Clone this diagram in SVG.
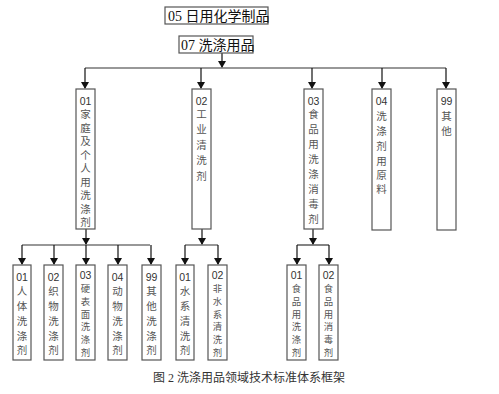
<svg xmlns="http://www.w3.org/2000/svg" width="499" height="394" viewBox="0 0 499 394">
<style>
.box{fill:#fff;stroke:#555;stroke-width:1.2}
.ln{fill:none;stroke:#333;stroke-width:1.2}
.ar{fill:none;stroke:#111;stroke-width:1.2;marker-end:url(#ah)}
.t1{font-family:"Liberation Serif","Noto Sans CJK SC",serif;font-size:14px;fill:#111}
.v{font-family:"Noto Sans CJK SC",sans-serif;font-size:10.5px;fill:#555;text-anchor:middle}
.s{font-size:9.4px}
.n{font-family:"Liberation Sans","Noto Sans CJK SC",sans-serif;font-size:10.5px;fill:#333;text-anchor:middle}
.cap{font-family:"Liberation Serif","Noto Sans CJK SC",serif;font-size:12px;fill:#333}
</style>
<defs>
<marker id="ah" markerWidth="7" markerHeight="8" refX="6" refY="4" orient="auto" markerUnits="userSpaceOnUse">
<path d="M0,0 L7,4 L0,8 z" fill="#111"/>
</marker>
</defs>
<rect width="499" height="394" fill="#fff"/>
<g id="connectors">
<line class="ar" x1="222" y1="53" x2="222" y2="67"/>
<line class="ln" x1="85" y1="68" x2="446" y2="68"/>
<line class="ar" x1="85" y1="68" x2="85" y2="88"/>
<line class="ar" x1="201" y1="68" x2="201" y2="88"/>
<line class="ar" x1="312" y1="68" x2="312" y2="88"/>
<line class="ar" x1="382" y1="68" x2="382" y2="88"/>
<line class="ar" x1="446" y1="68" x2="446" y2="88"/>
<line class="ar" x1="86" y1="229" x2="86" y2="244"/>
<line class="ln" x1="22" y1="245" x2="150" y2="245"/>
<line class="ar" x1="22" y1="245" x2="22" y2="264"/>
<line class="ar" x1="54" y1="245" x2="54" y2="264"/>
<line class="ar" x1="86" y1="245" x2="86" y2="264"/>
<line class="ar" x1="118" y1="245" x2="118" y2="264"/>
<line class="ar" x1="151" y1="245" x2="151" y2="264"/>
<line class="ar" x1="202" y1="229" x2="202" y2="244"/>
<line class="ln" x1="185" y1="245" x2="218" y2="245"/>
<line class="ar" x1="185" y1="245" x2="185" y2="264"/>
<line class="ar" x1="218" y1="245" x2="218" y2="264"/>
<line class="ar" x1="313" y1="229" x2="313" y2="244"/>
<line class="ln" x1="297" y1="245" x2="329" y2="245"/>
<line class="ar" x1="297" y1="245" x2="297" y2="264"/>
<line class="ar" x1="329" y1="245" x2="329" y2="264"/>
</g>
<g id="n05"><rect class="box" x="165" y="7" width="103" height="17"/><text class="t1" x="168" y="20.5">05 日用化学制品</text></g>
<g id="n07"><rect class="box" x="179" y="36" width="74" height="17"/><text class="t1" x="181" y="49.5">07 洗涤用品</text></g>

<g id="a01"><rect class="box" x="76" y="89" width="19" height="140"/>
<text class="n" x="85.5" y="105">01</text>
<text class="v"><tspan x="85.5" y="118">家</tspan><tspan x="85.5" y="131.5">庭</tspan><tspan x="85.5" y="145">及</tspan><tspan x="85.5" y="158.5">个</tspan><tspan x="85.5" y="172">人</tspan><tspan x="85.5" y="185.5">用</tspan><tspan x="85.5" y="199">洗</tspan><tspan x="85.5" y="212.5">涤</tspan><tspan x="85.5" y="226">剂</tspan></text></g>
<g id="a02"><rect class="box" x="192" y="89" width="19" height="140"/>
<text class="n" x="201.5" y="105">02</text>
<text class="v"><tspan x="201.5" y="117.5">工</tspan><tspan x="201.5" y="133">业</tspan><tspan x="201.5" y="148.5">清</tspan><tspan x="201.5" y="164">洗</tspan><tspan x="201.5" y="179.5">剂</tspan></text></g>
<g id="a03"><rect class="box" x="304" y="89" width="19" height="140"/>
<text class="n" x="313.5" y="105">03</text>
<text class="v"><tspan x="313.5" y="118">食</tspan><tspan x="313.5" y="133">品</tspan><tspan x="313.5" y="148">用</tspan><tspan x="313.5" y="163">洗</tspan><tspan x="313.5" y="178">涤</tspan><tspan x="313.5" y="192.5">消</tspan><tspan x="313.5" y="207.5">毒</tspan><tspan x="313.5" y="222.5">剂</tspan></text></g>
<g id="a04"><rect class="box" x="372" y="89" width="19" height="141"/>
<text class="n" x="381.5" y="105">04</text>
<text class="v"><tspan x="381.5" y="120">洗</tspan><tspan x="381.5" y="135">涤</tspan><tspan x="381.5" y="150">剂</tspan><tspan x="381.5" y="164.5">用</tspan><tspan x="381.5" y="178.5">原</tspan><tspan x="381.5" y="192.5">料</tspan></text></g>
<g id="a99"><rect class="box" x="437" y="89" width="19" height="141"/>
<text class="n" x="446.5" y="105">99</text>
<text class="v"><tspan x="446.5" y="120">其</tspan><tspan x="446.5" y="135">他</tspan></text></g>

<g id="b01"><rect class="box" x="13" y="265" width="18" height="95"/>
<text class="n" x="22" y="281">01</text>
<text class="v"><tspan x="22" y="295">人</tspan><tspan x="22" y="310">体</tspan><tspan x="22" y="324.5">洗</tspan><tspan x="22" y="339.5">涤</tspan><tspan x="22" y="354">剂</tspan></text></g>
<g id="b02"><rect class="box" x="44" y="265" width="19" height="95"/>
<text class="n" x="53.5" y="281">02</text>
<text class="v"><tspan x="53.5" y="295">织</tspan><tspan x="53.5" y="310">物</tspan><tspan x="53.5" y="324.5">洗</tspan><tspan x="53.5" y="339.5">涤</tspan><tspan x="53.5" y="354">剂</tspan></text></g>
<g id="b03"><rect class="box" x="76" y="265" width="19" height="95"/>
<text class="n" x="85.5" y="279">03</text>
<text class="v s"><tspan x="85.5" y="292">硬</tspan><tspan x="85.5" y="304.8">表</tspan><tspan x="85.5" y="317.6">面</tspan><tspan x="85.5" y="330.4">洗</tspan><tspan x="85.5" y="343.2">涤</tspan><tspan x="85.5" y="356">剂</tspan></text></g>
<g id="b04"><rect class="box" x="108" y="265" width="19" height="95"/>
<text class="n" x="117.5" y="281">04</text>
<text class="v"><tspan x="117.5" y="295">动</tspan><tspan x="117.5" y="310">物</tspan><tspan x="117.5" y="324.5">洗</tspan><tspan x="117.5" y="339.5">涤</tspan><tspan x="117.5" y="354">剂</tspan></text></g>
<g id="b99"><rect class="box" x="142" y="265" width="19" height="95"/>
<text class="n" x="151.5" y="281">99</text>
<text class="v"><tspan x="151.5" y="295">其</tspan><tspan x="151.5" y="310">他</tspan><tspan x="151.5" y="324.5">洗</tspan><tspan x="151.5" y="339.5">涤</tspan><tspan x="151.5" y="354">剂</tspan></text></g>
<g id="c01"><rect class="box" x="176" y="265" width="18" height="95"/>
<text class="n" x="185" y="281">01</text>
<text class="v"><tspan x="185" y="295">水</tspan><tspan x="185" y="310">系</tspan><tspan x="185" y="324.5">清</tspan><tspan x="185" y="339.5">洗</tspan><tspan x="185" y="354">剂</tspan></text></g>
<g id="c02"><rect class="box" x="208" y="265" width="19" height="95"/>
<text class="n" x="217.5" y="279">02</text>
<text class="v s"><tspan x="217.5" y="292">非</tspan><tspan x="217.5" y="304.8">水</tspan><tspan x="217.5" y="317.6">系</tspan><tspan x="217.5" y="330.4">清</tspan><tspan x="217.5" y="343.2">洗</tspan><tspan x="217.5" y="356">剂</tspan></text></g>
<g id="d01"><rect class="box" x="287" y="265" width="19" height="95"/>
<text class="n" x="296.5" y="279">01</text>
<text class="v s"><tspan x="296.5" y="292">食</tspan><tspan x="296.5" y="304.8">品</tspan><tspan x="296.5" y="317.6">用</tspan><tspan x="296.5" y="330.4">洗</tspan><tspan x="296.5" y="343.2">涤</tspan><tspan x="296.5" y="356">剂</tspan></text></g>
<g id="d02"><rect class="box" x="319" y="265" width="19" height="95"/>
<text class="n" x="328.5" y="279">02</text>
<text class="v s"><tspan x="328.5" y="292">食</tspan><tspan x="328.5" y="304.8">品</tspan><tspan x="328.5" y="317.6">用</tspan><tspan x="328.5" y="330.4">消</tspan><tspan x="328.5" y="343.2">毒</tspan><tspan x="328.5" y="356">剂</tspan></text></g>
<text class="cap" x="153" y="382">图 2  洗涤用品领域技术标准体系框架</text>
</svg>
